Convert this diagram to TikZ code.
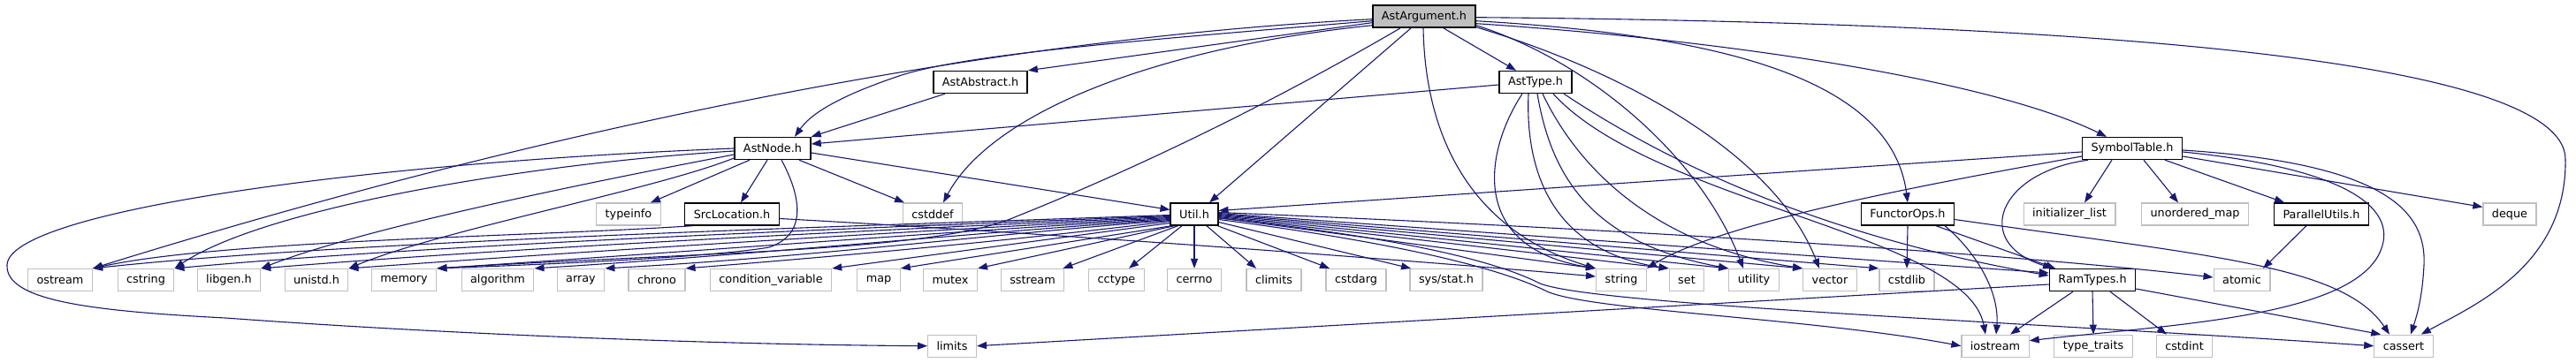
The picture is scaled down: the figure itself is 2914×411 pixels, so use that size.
\documentclass[tikz,border=0pt]{standalone}
\usepackage{fontspec}
\setmainfont{DejaVu Sans}
\usetikzlibrary{arrows.meta}
\definecolor{edgec}{RGB}{25,25,112}
\definecolor{grayb}{RGB}{191,191,191}
\begin{document}
\begin{tikzpicture}[x=1pt,y=-1pt,
  hdr/.style={draw=black, line width=1.4pt, fill=white, inner xsep=10pt, inner ysep=0pt, minimum height=25pt, font=\fontsize{12.8}{14}\selectfont},
  sys/.style={hdr, draw=grayb, line width=1.2pt},
  root/.style={hdr, fill=grayb},
  dep/.style={draw=edgec, line width=1.1pt, -{Triangle[length=11pt,width=8pt]}}]
\useasboundingbox[fill=white] (0,0) rectangle (2914,411);
% row 0-2
\node[root] (AA) at (1611,18.7) {AstArgument.h};
\node[hdr] (Abs) at (1109,93) {AstAbstract.h};
\node[hdr] (AT) at (1737,93) {AstType.h};
\node[hdr] (AN) at (874,168) {AstNode.h};
\node[hdr] (ST) at (2412,168) {SymbolTable.h};
% row 3
\node[sys] (typeinfo) at (711,242.5) {typeinfo};
\node[hdr] (SL) at (828,242.5) {SrcLocation.h};
\node[sys] (cstddef) at (1055,242.5) {cstddef};
\node[hdr] (U) at (1351,242.5) {Util.h};
\node[hdr] (FO) at (2158,242.5) {FunctorOps.h};
\node[sys] (initlist) at (2341,242.5) {initializer\_list};
\node[sys] (umap) at (2483,242.5) {unordered\_map};
\node[hdr] (PU) at (2626,242.5) {ParallelUtils.h};
\node[sys] (deque) at (2839,242.5) {deque};
% row 4
\node[sys] (ostream) at (68,317) {ostream};
\node[sys] (cstring) at (165,317) {cstring};
\node[sys] (libgen) at (259,317) {libgen.h};
\node[sys] (unistd) at (358,317) {unistd.h};
\node[sys] (memory) at (457,317) {memory};
\node[sys] (algorithm) at (563,317) {algorithm};
\node[sys] (array) at (657,317) {array};
\node[sys] (chrono) at (743,317) {chrono};
\node[sys] (condvar) at (872,317) {condition\_variable};
\node[sys] (map) at (994,317) {map};
\node[sys] (mutex) at (1075,317) {mutex};
\node[sys] (sstream) at (1168,317) {sstream};
\node[sys] (cctype) at (1263,317) {cctype};
\node[sys] (cerrno) at (1351,317) {cerrno};
\node[sys] (climits) at (1441,317) {climits};
\node[sys] (cstdarg) at (1534,317) {cstdarg};
\node[sys] (sysstat) at (1636,317) {sys/stat.h};
\node[sys] (string) at (1834,317) {string};
\node[sys] (set) at (1908,317) {set};
\node[sys] (utility) at (1984,317) {utility};
\node[sys] (vector) at (2070,317) {vector};
\node[sys] (cstdlib) at (2157,317) {cstdlib};
\node[hdr] (RT) at (2367,317) {RamTypes.h};
\node[sys] (atomic) at (2536,317) {atomic};
% row 5
\node[sys] (limits) at (1077,391.7) {limits};
\node[sys] (iostream) at (2257,391.7) {iostream};
\node[sys] (typetraits) at (2368,391.7) {type\_traits};
\node[sys] (cstdint) at (2471,391.7) {cstdint};
\node[sys] (cassert) at (2719,391.7) {cassert};

% AstArgument.h
\draw[dep] ([yshift=-3pt]AA.west) .. controls (1100,45) and (600,150) .. (ostream.north east);
\draw[dep] ([yshift=-5pt]AA.west) .. controls (1300,45) and (1100,60) .. (1020,85) .. controls (960,105) and (920,125) .. ([xshift=25pt]AN.north);
\draw[dep] ([yshift=-7pt]AA.west) -- (Abs.north east);
\draw[dep] ([yshift=-10pt]AA.west) .. controls (1300,55) and (1120,130) .. ([xshift=12pt]cstddef.north);
\draw[dep] ([xshift=-27pt]AA.south) .. controls (1450,110) and (1300,185) .. (1150,245) .. controls (1060,285) and (800,285) .. (memory.north east);
\draw[dep] ([xshift=-15pt]AA.south) -- ([xshift=17pt]U.north);
\draw[dep] ([xshift=-1pt]AA.south) .. controls (1612,150) and (1660,260) .. (string.north west);
\draw[dep] ([xshift=22pt]AA.south) -- ([xshift=-22pt]AT.north);
\draw[dep] ([yshift=-10pt]AA.east) .. controls (1800,70) and (1925,180) .. ([xshift=-12pt]utility.north);
\draw[dep] ([yshift=-12pt]AA.east) .. controls (1850,85) and (2010,180) .. ([xshift=-12pt]vector.north);
\draw[dep] ([yshift=-5pt]AA.east) .. controls (1950,40) and (2140,90) .. (FO.north);
\draw[dep] ([yshift=-8pt]AA.east) .. controls (1950,45) and (2250,90) .. ([xshift=-29pt]ST.north);
\draw[dep] ([yshift=-1pt]AA.east) .. controls (2300,25) and (2900,60) .. (2902,180) .. controls (2904,300) and (2800,345) .. ([xshift=-14pt]cassert.north east);
% AstAbstract.h
\draw[dep] ([xshift=-40pt]Abs.south) -- (AN.north east);
% AstType.h
\draw[dep] ([yshift=-3pt]AT.west) -- ([yshift=5pt]AN.east);
\draw[dep] ([xshift=-15pt]AT.south) .. controls (1680,170) and (1660,280) .. (string.north west);
\draw[dep] ([xshift=-8pt]AT.south) .. controls (1725,200) and (1760,285) .. (set.north west);
\draw[dep] ([xshift=2pt]AT.south) .. controls (1755,200) and (1800,275) .. (utility.north west);
\draw[dep] ([xshift=8pt]AT.south) .. controls (1780,180) and (1860,275) .. (vector.north west);
\draw[dep] ([xshift=20pt]AT.south) .. controls (1870,230) and (2225,265) .. ([xshift=-11pt]iostream.north);
\draw[dep] ([xshift=32pt]AT.south) .. controls (1880,180) and (2050,265) .. ([yshift=5pt]RT.west);
% AstNode.h
\draw[dep] (AN.west) .. controls (400,185) and (10,240) .. (8,300) .. controls (6,340) and (100,352) .. (255,360) .. controls (500,378) and (800,390) .. (limits.west);
\draw[dep] ([yshift=-3pt]AN.west) .. controls (600,185) and (300,235) .. (cstring.north east);
\draw[dep] ([yshift=-7pt]AN.west) .. controls (700,200) and (420,255) .. (libgen.north east);
\draw[dep] ([yshift=-11pt]AN.west) .. controls (740,215) and (500,260) .. (unistd.north east);
\draw[dep] ([xshift=-26pt]AN.south) -- ([xshift=25pt]typeinfo.north);
\draw[dep] ([xshift=-6pt]AN.south) -- ([xshift=10pt]SL.north);
\draw[dep] ([xshift=10pt]AN.south) .. controls (905,220) and (915,265) .. (870,280) .. controls (800,292) and (600,300) .. (memory.north east);
\draw[dep] ([xshift=30pt]AN.south) -- ([xshift=-32pt]cstddef.north);
\draw[dep] ([yshift=-5pt]AN.east) -- ([yshift=5pt]U.west);
% SrcLocation.h
\draw[dep] ([xshift=-45pt]SL.south) .. controls (600,268) and (250,272) .. (ostream.north east);
\draw[dep] ([yshift=-5pt]SL.east) .. controls (1200,265) and (1600,295) .. ([yshift=4pt]string.west);
% Util.h
\draw[dep] ([yshift=-1pt]U.west) .. controls (1000,255) and (400,272) .. (ostream.north east);
\draw[dep] ([yshift=-2pt]U.west) .. controls (1000,257) and (500,276) .. (cstring.north east);
\draw[dep] ([yshift=-3pt]U.west) .. controls (1020,259) and (600,279) .. (libgen.north east);
\draw[dep] ([yshift=-4pt]U.west) .. controls (1040,261) and (700,282) .. (unistd.north east);
\draw[dep] ([yshift=-5pt]U.west) .. controls (1060,263) and (780,285) .. (memory.north east);
\draw[dep] ([yshift=-6pt]U.west) .. controls (1080,265) and (860,288) .. (algorithm.north east);
\draw[dep] ([yshift=-7pt]U.west) .. controls (1100,267) and (920,291) .. (array.north east);
\draw[dep] ([yshift=-8pt]U.west) .. controls (1150,272) and (950,290) .. (chrono.north east);
\draw[dep] ([yshift=-10pt]U.west) -- (condvar.north east);
\draw[dep] ([xshift=2pt]U.south west) -- (map.north east);
\draw[dep] ([xshift=5pt]U.south west) -- (mutex.north east);
\draw[dep] ([xshift=9pt]U.south west) -- ([xshift=-2pt]sstream.north east);
\draw[dep] ([xshift=-14pt]U.south) -- ([xshift=14pt]cctype.north);
\draw[dep] (U.south) -- (cerrno.north);
\draw[dep] ([xshift=14pt]U.south) -- ([xshift=-20pt]climits.north);
\draw[dep] ([xshift=-1pt]U.south east) -- ([xshift=-30pt]cstdarg.north);
\draw[dep] ([yshift=-9pt]U.east) -- ([xshift=-40pt]sysstat.north);
\draw[dep] ([yshift=-4pt]U.east) -- (string.north west);
\draw[dep] ([yshift=-3pt]U.east) -- (set.north west);
\draw[dep] ([yshift=-2pt]U.east) -- (utility.north west);
\draw[dep] ([yshift=-1pt]U.east) -- (vector.north west);
\draw[dep] (U.east) -- (cstdlib.north west);
\draw[dep] ([yshift=1pt]U.east) -- ([yshift=8pt]RT.west);
\draw[dep] ([yshift=2pt]U.east) .. controls (1900,262) and (2300,290) .. ([yshift=3pt]atomic.west);
\draw[dep] ([yshift=-6pt]U.east) .. controls (1560,272) and (1690,300) .. (1750,330) .. controls (1800,352) and (2050,360) .. (iostream.west);
\draw[dep] ([yshift=-4.5pt]U.east) .. controls (1550,265) and (1680,290) .. (1740,320) .. controls (1790,345) and (2300,365) .. (cassert.west);
% SymbolTable.h
\draw[dep] ([yshift=-4pt]ST.west) -- ([yshift=4pt]U.east);
\draw[dep] ([yshift=-9pt]ST.west) .. controls (2200,205) and (1950,250) .. (string.north east);
\draw[dep] ([xshift=-50pt]ST.south) .. controls (2260,195) and (2230,275) .. ([xshift=-45pt]RT.north);
\draw[dep] ([xshift=-23pt]ST.south) -- ([xshift=17pt]initlist.north);
\draw[dep] ([xshift=13pt]ST.south) -- ([xshift=-19pt]umap.north);
\draw[dep] ([xshift=37pt]ST.south) -- ([xshift=-42pt]PU.north);
\draw[dep] ([yshift=-9pt]ST.east) -- ([yshift=-5pt]deque.north west);
\draw[dep] ([yshift=-4pt]ST.east) .. controls (2650,190) and (2720,235) .. (2690,290) .. controls (2650,360) and (2450,368) .. ([yshift=6pt]iostream.east);
\draw[dep] ([yshift=-2pt]ST.east) .. controls (2700,185) and (2745,240) .. (2742,300) .. controls (2740,340) and (2733,360) .. ([xshift=8pt]cassert.north);
% FunctorOps.h
\draw[dep] (FO.south) -- (cstdlib.north);
\draw[dep] ([xshift=32pt]FO.south) -- ([xshift=-42pt]RT.north);
\draw[dep] ([xshift=42pt]FO.south) .. controls (2235,285) and (2262,330) .. ([xshift=1pt]iostream.north);
\draw[dep] ([yshift=-6pt]FO.east) .. controls (2500,290) and (2650,300) .. ([xshift=-16pt]cassert.north);
% ParallelUtils.h
\draw[dep] ([xshift=-17pt]PU.south) -- ([xshift=24pt]atomic.north);
% RamTypes.h
\draw[dep] ([yshift=-5pt]RT.west) -- (limits.east);
\draw[dep] ([xshift=-22pt]RT.south) -- ([xshift=17pt]iostream.north);
\draw[dep] (RT.south) -- (typetraits.north);
\draw[dep] ([xshift=20pt]RT.south) -- ([xshift=-20pt]cstdint.north);
\draw[dep] ([yshift=-10pt]RT.east) -- ([xshift=8pt]cassert.north west);
\end{tikzpicture}
\end{document}
